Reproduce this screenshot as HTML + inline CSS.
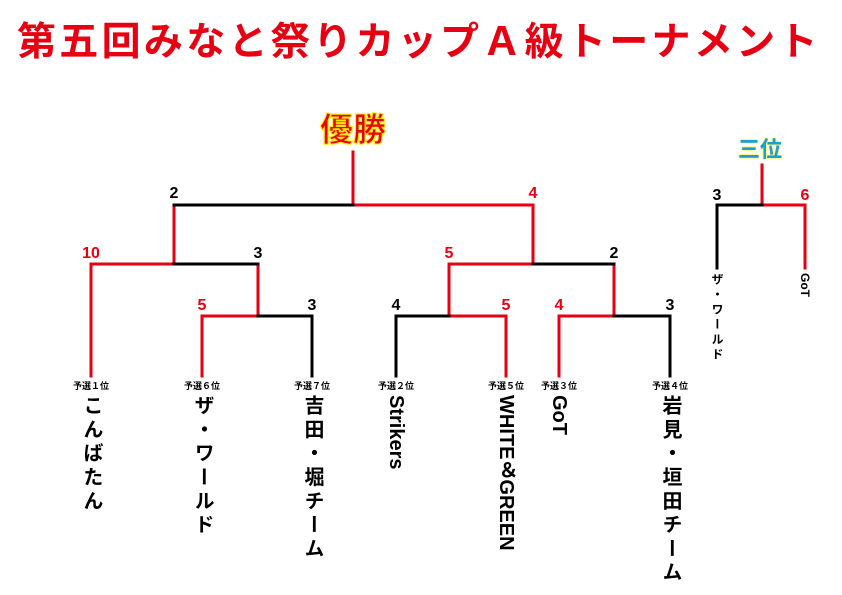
<!DOCTYPE html>
<html><head><meta charset="utf-8">
<style>
html,body{margin:0;padding:0;background:#fff;}
body{width:842px;height:595px;position:relative;overflow:hidden;font-family:"Liberation Sans","Noto Sans CJK JP",sans-serif;}
.t{position:absolute;white-space:nowrap;}
.title{left:17px;top:16px;font-size:39px;font-weight:bold;color:#e60012;letter-spacing:3.3px;line-height:54px;}
.n{position:absolute;font-size:16px;font-weight:bold;transform:translate(-50%,0);line-height:16px;}
.r{color:#e60012}.k{color:#000}
.lab{position:absolute;top:381px;font-size:9px;font-weight:bold;transform:translateX(-50%);line-height:10px;white-space:nowrap;}
.nm{position:absolute;top:395px;writing-mode:vertical-rl;text-orientation:mixed;font-size:20px;font-weight:bold;letter-spacing:3.8px;transform:translateX(-50%);line-height:22px;white-space:nowrap;}
.sm{position:absolute;top:273px;writing-mode:vertical-rl;font-size:12px;font-weight:bold;letter-spacing:3px;transform:translateX(-50%);line-height:14px;white-space:nowrap;}
</style></head><body>
<div class="t title">第五回みなと祭りカップＡ級トーナメント</div>
<div class="t" style="left:320px;top:110px;font-size:33px;font-weight:bold;color:#e60012;-webkit-text-stroke:1px #ffe600;text-shadow:0 0 2px #ffe600;line-height:40px;">優勝</div>
<div class="t" style="left:738px;top:136px;font-size:22px;font-weight:bold;color:#1aa0d8;text-shadow:0 0 2px #ffe600,0 0 1px #ffe600;line-height:28px;">三位</div>
<svg width="842" height="595" style="position:absolute;left:0;top:0" fill="none" stroke-width="3" stroke-linecap="square">
<g stroke="#e60012">
<path d="M353 152V205H533V264"/>
<path d="M174 205V264H91V376"/>
<path d="M258 264V316H202V376"/>
<path d="M449 264H533M449 264V316H506V376"/>
<path d="M614 264V316H559V376"/>
<path d="M762 165V205H805V268"/>
</g>
<g stroke="#000">
<path d="M174 205H353"/>
<path d="M174 264H258"/>
<path d="M258 316H312V376"/>
<path d="M533 264H614"/>
<path d="M449 316H396V376"/>
<path d="M614 316H670V376"/>
<path d="M762 205H717V268"/>
</g>
</svg>
<div class="n k" style="left:174px;top:186px">2</div>
<div class="n r" style="left:533px;top:186px">4</div>
<div class="n r" style="left:91px;top:246px">10</div>
<div class="n k" style="left:258px;top:246px">3</div>
<div class="n r" style="left:449px;top:246px">5</div>
<div class="n k" style="left:614px;top:246px">2</div>
<div class="n r" style="left:202px;top:298px">5</div>
<div class="n k" style="left:312px;top:298px">3</div>
<div class="n k" style="left:396px;top:298px">4</div>
<div class="n r" style="left:506px;top:298px">5</div>
<div class="n r" style="left:559px;top:298px">4</div>
<div class="n k" style="left:670px;top:298px">3</div>
<div class="n k" style="left:717px;top:188px">3</div>
<div class="n r" style="left:805px;top:188px">6</div>
<div class="lab" style="left:91px">予選１位</div>
<div class="lab" style="left:202px">予選６位</div>
<div class="lab" style="left:312px">予選７位</div>
<div class="lab" style="left:396px">予選２位</div>
<div class="lab" style="left:506px">予選５位</div>
<div class="lab" style="left:559px">予選３位</div>
<div class="lab" style="left:670px">予選４位</div>
<div class="nm" style="left:91px">こんばたん</div>
<div class="nm" style="left:202px">ザ・ワールド</div>
<div class="nm" style="left:312px">吉田・堀チーム</div>
<div class="nm" style="left:396px;letter-spacing:0">Strikers</div>
<div class="nm" style="left:506px;letter-spacing:0">WHITE＆GREEN</div>
<div class="nm" style="left:559px;letter-spacing:0">GoT</div>
<div class="nm" style="left:670px">岩見・垣田チーム</div>
<div class="sm" style="left:717px">ザ・ワールド</div>
<div class="sm" style="left:805px;letter-spacing:0">GoT</div>
</body></html>
